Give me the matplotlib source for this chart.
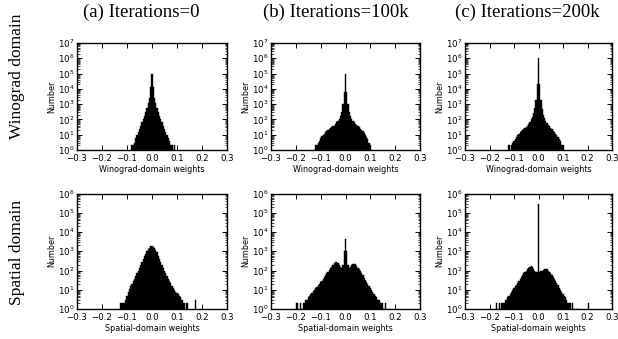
import numpy as np
import matplotlib
matplotlib.use("Agg")
import matplotlib.pyplot as plt
from matplotlib.ticker import LogLocator, NullFormatter

BIN_W = 0.005

# ---- data: histogram counts (bins of width 0.005, first bin centre given) ----
wino_0_start = -0.08
wino_0_counts = [2, 2, 3, 6, 10, 16, 25, 40, 70, 112, 178, 316, 562, 1122, 2500, 12600,
                 100000,
                 12600, 2500, 1122, 562, 316, 178, 112, 70, 40, 25, 16, 10, 6, 4, 2, 2, 1, 2]

wino_100k_start = -0.125
wino_100k_counts = [1, 2, 2, 3, 4, 6, 8, 10, 12, 14, 17, 20, 22, 28, 30, 35, 40, 50, 63, 79,
                    100, 158, 316, 1000, 6310,
                    100000,
                    6310, 1000, 316, 158, 100, 79, 63, 50, 42, 35, 30, 25, 21, 17, 13, 10, 7,
                    5, 3, 2, 1]

wino_200k_start = -0.12
wino_200k_counts = [2, 1, 2, 3, 4, 5, 7, 9, 11, 14, 17, 20, 25, 28, 32, 40, 50, 70, 100, 150,
                    250, 600, 2000, 20000,
                    1000000,
                    20000, 2000, 500, 200, 120, 80, 60, 45, 35, 28, 22, 18, 14, 11, 9, 7, 5,
                    4, 2, 2]

spat_0_start = -0.125
spat_0_counts = [2, 2, 2, 2, 3, 5, 8, 11, 15, 20, 27, 35, 50, 71, 100, 141, 200, 282, 400,
                 562, 750, 1000, 1300, 1500, 1800,
                 1900,
                 1750, 1400, 1150, 891, 600, 398, 282, 200, 141, 100, 71, 50, 35, 28, 22, 16,
                 12, 10, 8, 7, 6, 5, 4, 3, 2, 2, 0, 2, 0, 0, 0, 0, 0, 0, 3]

spat_100k_start = -0.195
spat_100k_counts = [2, 0, 0, 2, 1, 2, 2, 3, 3, 4, 5, 6, 7, 9, 10, 12, 14, 17, 20, 25, 30, 36,
                    45, 55, 70, 85, 105, 130, 160, 200, 240, 263, 263, 240, 200, 160, 140,
                    200, 1000,
                    4467,
                    1000, 200, 140, 160, 190, 214, 224, 214, 180, 141, 115, 90, 70, 55, 42,
                    32, 25, 20, 16, 12, 10, 8, 6, 5, 4, 3, 3, 2, 2, 2, 1, 2, 0, 1, 0, 1, 0,
                    0, 0, 1, 1]

spat_200k_start = -0.17
spat_200k_counts = [2, 0, 2, 1, 2, 2, 2, 3, 3, 4, 5, 6, 8, 10, 12, 15, 18, 22, 28, 35, 45,
                    55, 70, 85, 100, 120, 141, 158, 166, 150, 126, 100, 85, 80,
                    282000,
                    80, 90, 100, 112, 120, 120, 115, 100, 85, 70, 55, 45, 35, 28, 22, 17, 13,
                    10, 8, 6, 5, 4, 3, 2, 2, 2, 1, 2, 1, 0, 1, 0, 1, 0, 0, 0, 0, 0, 0, 0, 2]

col_titles = ["(a) Iterations=0", "(b) Iterations=100k", "(c) Iterations=200k"]
row_titles = ["Winograd domain", "Spatial domain"]
x_labels = ["Winograd-domain weights", "Spatial-domain weights"]
y_label = "Number"
x_ticks = [-0.3, -0.2, -0.1, 0.0, 0.1, 0.2, 0.3]
y_tops = [1e7, 1e6]

panels = [
    [(wino_0_start, wino_0_counts), (wino_100k_start, wino_100k_counts),
     (wino_200k_start, wino_200k_counts)],
    [(spat_0_start, spat_0_counts), (spat_100k_start, spat_100k_counts),
     (spat_200k_start, spat_200k_counts)],
]

# ---- layout (pixels) ----
W, H = 618, 339
fig = plt.figure(figsize=(W / 100, H / 100), dpi=100)

col_x = [(77, 227), (271, 420), (465, 612)]
row_y = [(43, 150), (193.5, 309)]
title_x = [141, 336, 527]
row_label_y = [76, 252]

serif = ["Liberation Serif", "DejaVu Serif"]

for r in range(2):
    y0, y1 = row_y[r]
    for c in range(3):
        x0, x1 = col_x[c]
        ax = fig.add_axes([x0 / W, (H - y1) / H, (x1 - x0) / W, (y1 - y0) / H])
        start, counts = panels[r][c]
        counts = np.asarray(counts, dtype=float)
        centers = start + BIN_W * np.arange(len(counts))
        ax.bar(centers, counts, width=BIN_W, color="black", edgecolor="black",
               linewidth=0.3, align="center")
        ax.set_yscale("log")
        ax.set_ylim(1, y_tops[r])
        ax.set_xlim(-0.3, 0.3)
        ax.set_xticks(x_ticks)
        ax.yaxis.set_major_locator(LogLocator(base=10, numticks=20))
        ax.yaxis.set_minor_locator(LogLocator(base=10, subs=np.arange(2, 10), numticks=20))
        ax.yaxis.set_minor_formatter(NullFormatter())
        ax.tick_params(which="both", direction="in", top=True, right=True,
                       labelsize=6.2)
        ax.tick_params(axis="x", pad=3.2)
        ax.tick_params(axis="y", pad=1.8)
        ax.tick_params(which="major", length=3.5, width=0.7)
        ax.tick_params(which="minor", length=1.8, width=0.5)
        for sp in ax.spines.values():
            sp.set_linewidth(1.0)
        ax.set_xlabel(x_labels[r], fontsize=5.8, labelpad=1)
        ax.set_ylabel(y_label, fontsize=5.8, labelpad=1.5)

for c in range(3):
    fig.text(title_x[c] / W, 1 - 12 / H, col_titles[c], ha="center", va="center",
             fontsize=13.5, family=serif)
for r in range(2):
    fig.text(17 / W, 1 - row_label_y[r] / H, row_titles[r], ha="center", va="center",
             rotation=90, fontsize=12.5, family=serif)

fig.savefig("out.png", dpi=100)
